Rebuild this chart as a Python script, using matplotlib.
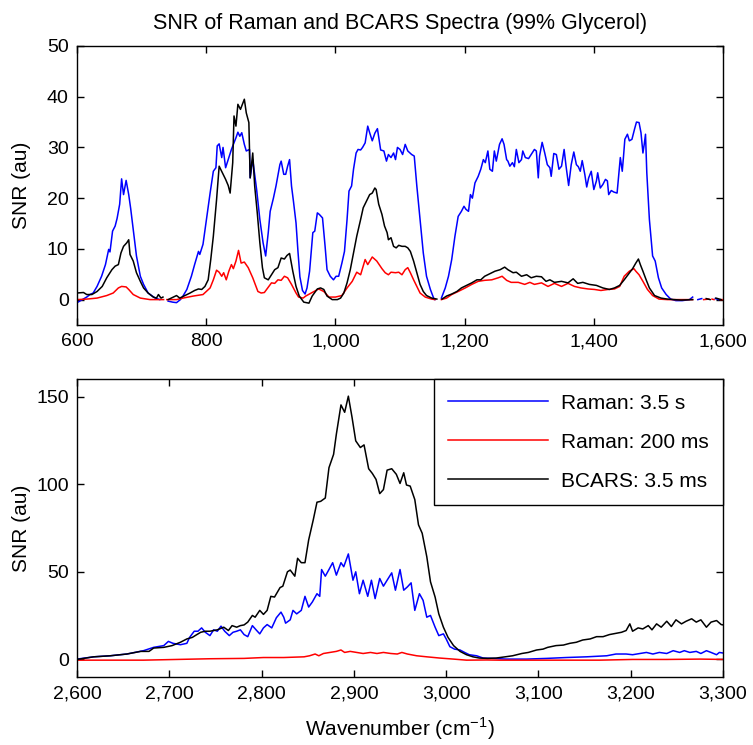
import numpy as np
import matplotlib
matplotlib.use('Agg')
import matplotlib.pyplot as plt
from matplotlib.ticker import FuncFormatter

plt.rcParams['font.family'] = ['Liberation Sans', 'DejaVu Sans']
plt.rcParams['font.size'] = 14
plt.rcParams['mathtext.fontset'] = 'custom'
plt.rcParams['mathtext.rm'] = 'Liberation Sans'

nan = np.nan

# ---- fingerprint region (top) ----
blue_top_x = [600, 608, 615, 620, 625, 631, 638, 644, 649, 651, 655, 659, 662, 666, 669, 672, 676, 680, 683, 687,
              692, 698, 703, 710, 721, 728, nan, 741, 748, 754, 760, 764, 770, 777, 782, 788, 790, 795, 800, 806,
              811, 815, 817, 820, 824, 826, 830, 835, 839, 843, 846, 849, 852, 855, 859, 862, 867, 868, 872, 878,
              883, 888, 892, 896, 899, 904, 908, 914, 916, 920, 923, 926, 929, 932, 935, 939, 942, 945, 949, 953,
              956, 960, 965, 968, 972, 975, 980, 984, 987, 992, 997, 1001, 1005, 1010, 1014, 1018, 1021, 1025,
              1028, 1032, 1035, 1039, 1042, 1046, 1050, 1053, 1057, 1061, 1065, 1070, 1075, 1079, 1082, 1086,
              1090, 1093, 1096, 1100, 1104, 1108, 1112, 1118, 1122, 1126, 1131, 1136, 1141, 1147, 1152, 1154, nan,
              1164, 1170, 1175, 1180, 1185, 1190, 1195, 1199, 1202, 1206, 1209, 1212, 1216, 1221, 1225, 1229,
              1232, 1236, 1239, 1243, 1246, 1249, 1254, 1258, 1261, 1265, 1267, 1270, 1274, 1277, 1280, 1284,
              1288, 1290, 1294, 1299, 1303, 1308, 1311, 1314, 1316, 1320, 1324, 1328, 1332, 1334, 1338, 1342,
              1346, 1350, 1354, 1357, 1361, 1365, 1369, 1373, 1376, 1379, 1382, 1386, 1389, 1392, 1396, 1400,
              1404, 1406, 1410, 1414, 1418, 1421, 1423, 1427, 1431, 1436, 1439, 1441, 1444, 1446, 1448, 1452,
              1455, 1459, 1463, 1466, 1470, 1473, 1476, 1478, 1480, 1482, 1486, 1491, 1495, 1500, 1505, 1512,
              1519, 1527, 1537, 1548, 1553, nan, 1561, 1567, nan, 1588, 1593]
blue_top_y = [-0.6, 0, 0.5, 1.0, 1.3, 2.6, 4.6, 6.9, 9.9, 9.4, 13.5, 14.5, 16, 18.8, 23.8, 20.7, 23.5, 20.7, 18, 13.8,
              8.6, 4.6, 3, 1.3, 0.3, 0, nan, -0.3, -0.5, -0.6, 0, 0.7, 2, 4.6, 6.9, 9.5, 8.9, 10.9, 15.5, 21,
              25.3, 26, 30.3, 30.7, 28, 30, 26, 28, 29.6, 30.9, 31.9, 33, 32.2, 32.9, 30.6, 29.3, 29.6, 24, 27.6, 21.7,
              15.8, 11.2, 8.6, 13.2, 17.4, 20, 22.4, 26.6, 27.3, 24.7, 24.7, 26.3, 27.6, 22.4, 19.4, 15.1, 9.5, 4.5, 1.8, 1.1,
              2.3, 5.6, 13.2, 13.5, 17.1, 16.8, 16.1, 10.5, 5.9, 4.6, 3.9, 4.6, 4.6, 7.2, 9.5, 15.8, 21.4, 22.4,
              25.7, 28.9, 29.6, 29.5, 30, 30.9, 34.2, 32.9, 31.3, 32.8, 33.7, 29.5, 29.3, 27.3, 28.6, 28,
              28.9, 27.6, 30, 29.6, 28.6, 30.6, 29.3, 28.6, 28.3, 22.4, 15.8, 9.2, 4.6, 2, 0.3, 0, nan,
              0.3, 2.3, 4.6, 7.9, 12.5, 16.4, 17.4, 18.4, 17.8, 17.4, 20.7, 20, 23, 24.3, 25.7, 27.6,
              27, 29.3, 25.7, 25.3, 29.3, 27.3, 30.6, 31.7, 30.6, 27.6, 27.3, 26.3, 27, 26.2, 29.6, 27,
              27.6, 29.3, 28, 27.8, 28.6, 29.6, 29.3, 24, 28.3, 31, 28.9, 26.6, 26, 24.3, 28.8, 28.6,
              25.7, 26.3, 29.6, 26.3, 22.5, 26.6, 29.1, 26.6, 26.2, 25.3, 27.4, 24.7, 22.2, 24, 25.3, 21.7,
              23.4, 25, 22, 22.7, 23.7, 23.4, 20.7, 21.5, 21.2, 21, 25.3, 28, 25.3, 28.3, 31.6, 32.6,
              31.3, 31.6, 33.6, 35, 34.9, 32.9, 28.9, 30.6, 32.6, 25, 15.8, 8.6, 7.6, 4.3, 2.3, 1,
              0.1, -0.2, -0.2, 0, 0.5, nan, 0, 0.2, nan, 0.2, 0]

red_top_x = [600, 615, 631, 646, 656, 664, 669, 676, 680, 687, 698, 713, 734, nan, 739, 754, 764, 780, 795, 806,
             811, 816, 820, 824, 827, 831, 835, 839, 842, 846, 850, 854, 859, 865, 872, 880, 885, 890, 897, 901,
             906, 911, 916, 921, 926, 932, 939, 943, 950, 954, 964, 974, 982, 990, 1000, 1010, 1018, 1026, 1033,
             1039, 1046, 1050, 1057, 1064, 1072, 1077, 1082, 1086, 1093, 1098, 1103, 1108, 1112, 1116, 1121, 1126,
             1131, 1139, 1149, 1154, nan, 1164, 1172, 1180, 1190, 1201, 1211, 1221, 1231, 1242, 1252, 1258, 1265,
             1272, 1283, 1293, 1301, 1308, 1319, 1329, 1339, 1350, 1360, 1370, 1380, 1391, 1401, 1411, 1422, 1432,
             1440, 1447, 1455, 1462, 1465, 1470, 1476, 1483, 1491, 1501, 1514, 1553, nan, 1570, 1578, nan, 1583,
             1586, nan, 1596, 1600]
red_top_y = [0, 0.1, 0.3, 0.8, 1.3, 2.3, 2.6, 2.5, 2, 1, 0.3, 0, 0, nan, 0, 0, 0.3, 0.7, 1, 2.3,
             3.9, 5.8, 5.4, 4.6, 5.3, 3.9, 5.6, 6.9, 6.1, 7.6, 9.7, 7.2, 7.4, 6.3, 4.3, 1.6, 1.3, 1.4, 2.6, 3.3,
             3.2, 3.9, 3.8, 4.6, 4.3, 3, 1.3, 0.5, 0.3, 0.7, 1.4, 2.1, 1.6, 0.5, 0.5, 0.8, 2.3, 3.6, 5.4,
             4.9, 7.9, 6.9, 8.4, 7.6, 6.1, 5.3, 4.9, 5.4, 5.3, 5.4, 4.9, 5.9, 6.3, 5.3, 3.9, 2.6,
             1.3, 0.5, 0.1, 0, nan, 0, 0.3, 1, 1.6, 2.3, 3, 3.6, 3.8, 3.9, 4.3, 4.6, 3.8,
             3.4, 3.4, 3, 3.4, 3, 3.3, 2.6, 3.2, 2.6, 3.2, 2.6, 2.3, 2.1, 2, 1.8, 2, 2.1,
             2.6, 4.6, 5.6, 6.1, 5.6, 4.9, 3.6, 2, 0.8, 0.1, 0, 0, nan, 0, 0.1, nan, 0.1,
             0, nan, 0, 0]

black_top_x = [600, 610, 615, 623, 631, 639, 646, 654, 659, 664, 668, 672, 677, 680, 682, 687, 692, 698, 703, 710,
               718, 723, 726, 730, 733, nan, 741, 749, 754, 759, 767, 775, 782, 788, 793, 798, 803, 807, 811, 816,
               820, 825, 830, 834, 837, 841, 843, 846, 849, 853, 856, 859, 862, 866, 868, 872, 875, 879, 883, 887,
               890, 896, 901, 906, 911, 916, 921, 925, 929, 934, 939, 944, 951, 959, 964, 972, 977, 982, 987, 995,
               1003, 1008, 1013, 1018, 1023, 1028, 1033, 1039, 1043, 1048, 1053, 1057, 1061, 1063, 1067, 1072, 1076,
               1080, 1082, 1086, 1090, 1094, 1098, 1103, 1108, 1112, 1116, 1121, 1126, 1131, 1136, 1141, 1149, 1157,
               nan, 1165, 1172, 1180, 1188, 1195, 1203, 1211, 1219, 1225, 1231, 1239, 1247, 1255, 1262, 1267, 1275,
               1280, 1288, 1296, 1303, 1311, 1319, 1326, 1332, 1339, 1350, 1360, 1368, 1375, 1383, 1393, 1404, 1414,
               1424, 1432, 1440, 1447, 1453, 1460, 1465, 1469, 1472, 1476, 1481, 1486, 1494, 1504, 1514, 1524, 1535,
               1553, nan, 1574, 1580, nan, 1589, 1597]
black_top_y = [1.3, 1.4, 1, 1, 1.6, 2.6, 4.3, 5.9, 6.6, 6.9, 9.2, 10.5, 11.2, 11.8, 8.9, 7.6, 5.3, 3.6, 2.3, 1.3,
               0.5, 0.3, 1, 0.3, 0.5, nan, 0, 0.5, 0.8, 0.3, 0.8, 1.3, 1.8, 2.1, 2, 2.6, 3.9, 7.9, 12.5, 19.7,
               26.3, 25, 23.7, 22.5, 21, 27, 36.2, 34.2, 38.5, 37.5, 38.5, 39.5, 36.8, 34.9, 24, 28.9, 22.4, 17.1, 11.2, 6.3,
               4.3, 3.9, 4.9, 5.9, 6.3, 8.2, 8, 8.7, 9.1, 5.6, 2.6, 0.7, -0.5, -0.7, 0.7, 2.1, 2.3, 2, 0.7, 0,
               0, 0.3, 1.3, 3.3, 5.9, 9.2, 12.5, 15.8, 18.1, 19.4, 20.7, 21, 22, 21.7, 18.8, 16.8, 14.5,
               13.2, 11.8, 12.2, 10.5, 10.2, 10.7, 10.5, 10.5, 10.2, 9.5, 7.6, 5.3, 3, 1.6, 0.8, 0.3, 0.1,
               nan, 0.1, 0.7, 1.1, 1.6, 2.3, 2.8, 3.3, 3.9, 3.9, 4.6, 5.1, 5.6, 5.9, 6.4, 5.9, 5.3,
               5.4, 4.6, 4.9, 4.3, 4.6, 4.5, 3.6, 3.9, 3.4, 3.6, 3.3, 4.1, 3.2, 3.4, 3, 2.8, 2.3,
               2, 2.3, 2.8, 3.9, 4.9, 6.1, 7.2, 8, 6.9, 5.6, 3.9, 2.3, 0.8, 0.3, 0.1, 0, -0.1,
               0, nan, 0.2, 0, nan, 0.3, 0]

# ---- CH stretch region (bottom) ----
blue_bot_x = [2600, 2618, 2636, 2654, 2672, 2683, 2694, 2699, 2704, 2712, 2719, 2722, 2727, 2731, 2735, 2739, 2744,
              2748, 2752, 2756, 2760, 2765, 2769, 2773, 2777, 2781, 2785, 2790, 2794, 2798, 2802, 2806, 2811, 2816,
              2821, 2824, 2826, 2831, 2834, 2838, 2843, 2847, 2851, 2855, 2860, 2863, 2865, 2869, 2873, 2877, 2881,
              2886, 2889, 2894, 2899, 2902, 2906, 2910, 2915, 2919, 2923, 2928, 2932, 2936, 2941, 2945, 2950, 2954,
              2958, 2962, 2966, 2971, 2975, 2979, 2983, 2988, 2992, 2997, 3000, 3004, 3009, 3015, 3020, 3025, 3033,
              3040, 3051, 3065, 3087, 3109, 3130, 3152, 3174, 3184, 3195, 3202, 3210, 3217, 3224, 3231, 3239, 3246,
              3253, 3258, 3264, 3271, 3276, 3282, 3287, 3293, 3296, 3302]
blue_bot_y = [0.2, 1.5, 2.1, 3.1, 5, 6.9, 7.9, 10.3, 9.2, 8.4, 9.2, 12.6, 16.1, 16.1, 18, 15.5, 13.6,
              16.9, 16.1, 19, 16.1, 13.6, 15.5, 16.1, 16.9, 14.2, 13, 19.3, 16.9, 14.6, 18, 19.9, 18, 23.8,
              27, 24.1, 20.7, 22.6, 28, 26, 28, 36, 29.9, 32.8, 37.5, 36, 51.3, 47.5, 51.3, 55.2, 48.1,
              55.2, 52.9, 60.2, 45.2, 50, 37.5, 45.2, 36, 45.2, 34.7, 46.2, 41.8, 45.2, 49.4, 39.5, 51.3, 39.5,
              41.4, 43.7, 28, 37.5, 33.7, 24.1, 25.1, 18.4, 13.6, 14.6, 11.7, 7.3, 5.9, 5.4, 4, 2.7, 2.1,
              0.8, 0.6, 0.2, 0.2, 0.6, 1.1, 1.5, 2.1, 3.1, 3.1, 2.7, 3.4, 4, 3.1, 4, 3.4, 5,
              4, 5, 4, 4.6, 3.4, 5, 4, 2.7, 4, 3.5]

red_bot_x = [2600, 2640, 2672, 2708, 2744, 2781, 2802, 2824, 2846, 2852, 2858, 2862, 2867, 2874, 2881, 2886, 2890,
             2896, 2903, 2910, 2918, 2925, 2932, 2940, 2947, 2952, 2958, 2968, 2979, 2993, 3008, 3022, 3044, 3058,
             3094, 3166, 3202, 3239, 3275, 3302]
red_bot_y = [-0.4, -0.4, -0.4, 0, 0.4, 0.6, 1.1, 1.1, 1.5, 2.1, 3.1, 2.1, 3.4, 4, 4.6, 5.4, 4,
             4.6, 4, 3.4, 4, 3.4, 4, 3.4, 3.1, 4, 3.1, 2.1, 1.5, 0.8, 0.2, -0.4, -0.3, -0.4,
             -0.4, -0.4, 0, 0, 0.2, 0]

black_bot_x = [2600, 2618, 2636, 2654, 2669, 2678, 2683, 2694, 2703, 2712, 2719, 2725, 2728, 2734, 2739, 2744, 2752,
               2759, 2764, 2768, 2773, 2777, 2781, 2785, 2790, 2793, 2798, 2802, 2806, 2810, 2814, 2820, 2823, 2828,
               2831, 2836, 2839, 2843, 2847, 2851, 2856, 2860, 2864, 2869, 2873, 2878, 2881, 2886, 2890, 2894, 2898,
               2902, 2907, 2911, 2916, 2920, 2924, 2928, 2932, 2936, 2941, 2946, 2950, 2954, 2957, 2961, 2966, 2970,
               2974, 2979, 2983, 2988, 2992, 2997, 3002, 3008, 3015, 3022, 3029, 3036, 3045, 3054, 3064, 3072, 3082,
               3089, 3098, 3105, 3110, 3119, 3127, 3134, 3141, 3148, 3156, 3163, 3170, 3177, 3184, 3190, 3195, 3199,
               3202, 3208, 3213, 3219, 3223, 3228, 3233, 3239, 3244, 3249, 3255, 3260, 3266, 3271, 3276, 3282, 3287,
               3293, 3298, 3302]
black_bot_y = [0, 1.5, 2.1, 3.1, 4.6, 4.6, 6.5, 6.9, 7.9, 9.8, 11.7, 12.6, 13.6, 15.5, 16.1, 16.1, 16.9,
               18.4, 16.5, 19.3, 18.4, 19.3, 19.7, 21.3, 25.1, 24.1, 28, 25.7, 28, 36, 35.6, 41, 41.8, 50,
               51, 47.5, 57.7, 55.2, 55.2, 68.2, 79.7, 89.7, 90.2, 92.1, 109.4, 117, 128.5, 145.2, 141, 150.2, 138.1,
               124.7, 120.9, 122.4, 108.8, 106.1, 102.7, 94.6, 96.9, 108, 108.8, 105.6, 100.4, 106.5, 99.5, 98.9, 91.2, 76.8,
               72, 58.6, 44.3, 35.6, 26, 18.4, 12.6, 7.9, 4.6, 2.7, 1.5, 0.8, 0.6, 0.8, 1.5, 2.1, 3.4,
               4, 5.4, 5.9, 6.9, 7.9, 8.2, 9.2, 9.8, 11.1, 11.7, 13, 13, 14.2, 14.9, 15.5, 16.5, 20.3,
               16.1, 18, 17.4, 19.3, 16.9, 20.3, 18.4, 21.8, 18.8, 22.6, 20.3, 21.8, 23.2, 21.3, 22.6, 18.4, 21.3,
               22.2, 19.9, 19.5]

labels = ['Raman: 3.5 s', 'Raman: 200 ms', 'BCARS: 3.5 ms']
colors = ['#0000ff', '#ff0000', '#000000']

fig = plt.figure(figsize=(7.53, 7.45), dpi=100)
ax1 = fig.add_axes([0.1023, 0.5638, 0.8579, 0.3745])
ax2 = fig.add_axes([0.1023, 0.0913, 0.8579, 0.4000])

comma = FuncFormatter(lambda v, p: f'{v:,.0f}')

ax1.plot(blue_top_x, blue_top_y, color=colors[0], lw=1.1)
ax1.plot(red_top_x, red_top_y, color=colors[1], lw=1.1)
ax1.plot(black_top_x, black_top_y, color=colors[2], lw=1.1)
ax1.set_xlim(600, 1600)
ax1.set_ylim(-5, 50)
ax1.set_xticks(np.arange(600, 1601, 200))
ax1.set_yticks(np.arange(0, 51, 10))
ax1.xaxis.set_major_formatter(comma)
ax1.set_ylabel('SNR (au)', fontsize=15)
ax1.set_title('SNR of Raman and BCARS Spectra (99% Glycerol)', fontsize=15.5, pad=12)

ax2.plot(blue_bot_x, blue_bot_y, color=colors[0], lw=1.1, label=labels[0])
ax2.plot(red_bot_x, red_bot_y, color=colors[1], lw=1.1, label=labels[1])
ax2.plot(black_bot_x, black_bot_y, color=colors[2], lw=1.1, label=labels[2])
ax2.set_xlim(2600, 3300)
ax2.set_ylim(-10, 160)
ax2.set_xticks(np.arange(2600, 3301, 100))
ax2.set_yticks([0, 50, 100, 150])
ax2.xaxis.set_major_formatter(comma)
ax2.set_ylabel('SNR (au)', fontsize=15)
ax2.set_xlabel('Wavenumber (cm$^{-1}$)', fontsize=15)
ax2.xaxis.set_label_coords(0.5, -0.128)
leg = ax2.legend(loc='upper right', borderaxespad=0, fancybox=False, framealpha=1,
                 edgecolor='black', handlelength=4.8, handletextpad=0.6, labelspacing=0.96,
                 borderpad=0.7, fontsize=15)
leg.get_frame().set_linewidth(1.0)

for ax in (ax1, ax2):
    ax.tick_params(direction='in', top=True, right=True, length=5, width=1, labelsize=14, pad=6)
    ax.yaxis.set_label_coords(-0.072, 0.5)
    for s in ax.spines.values():
        s.set_linewidth(1.0)

fig.savefig('out.png', dpi=100)
